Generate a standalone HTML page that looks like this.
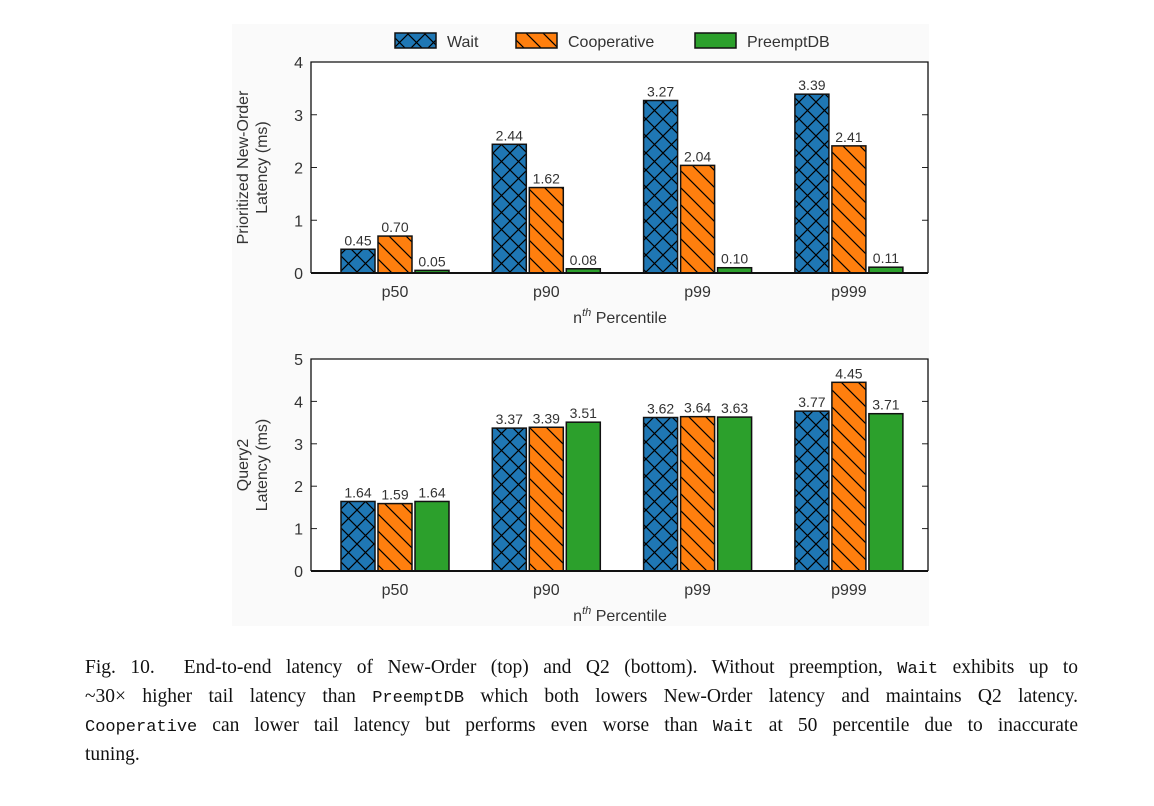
<!DOCTYPE html>
<html><head><meta charset="utf-8">
<style>
body{margin:0;background:#fff;width:1154px;height:806px;overflow:hidden;font-family:"Liberation Sans",sans-serif;}
#cap{position:absolute;left:85px;top:654px;width:993px;font-family:"Liberation Serif",serif;font-size:19.5px;line-height:27px;color:#111;}
#cap div{text-align:justify;text-align-last:justify;white-space:nowrap;}
#cap div.last{text-align-last:left;}
#cap code{font-family:"Liberation Mono",monospace;font-size:17px;}
</style></head><body>
<svg id="fig" width="1154" height="640" style="position:absolute;left:0;top:0" xmlns="http://www.w3.org/2000/svg">
<defs>
<pattern id="xh" width="17" height="17" patternUnits="userSpaceOnUse" x="0" y="0"><rect width="17" height="17" fill="#1f77b4"/><path d="M0,0L17,17M17,0L0,17" stroke="#000" stroke-width="1.2"/></pattern>
<pattern id="dh" width="17" height="17" patternUnits="userSpaceOnUse"><rect width="17" height="17" fill="#ff7f0e"/><path d="M-2,-2L19,19M-2,15L2,19M15,-2L19,2" stroke="#000" stroke-width="1.2"/></pattern>
</defs>
<rect x="232" y="24" width="697" height="602" fill="#fafafa"/>
<g id="charts"></g>
</svg>
<div id="cap">
<div>Fig. 10.&nbsp; End-to-end latency of New-Order (top) and Q2 (bottom). Without preemption, <code>Wait</code> exhibits up to</div>
<div>~30× higher tail latency than <code>PreemptDB</code> which both lowers New-Order latency and maintains Q2 latency.</div>
<div><code>Cooperative</code> can lower tail latency but performs even worse than <code>Wait</code> at 50 percentile due to inaccurate</div>
<div class="last">tuning.</div>
</div>
<script>
const categories=["p50","p90","p99","p999"];
const seriesNames=["Wait","Cooperative","PreemptDB"];
const topWait=[0.45,2.44,3.27,3.39];
const topCoop=[0.70,1.62,2.04,2.41];
const topPre=[0.05,0.08,0.10,0.11];
const botWait=[1.64,3.37,3.62,3.77];
const botCoop=[1.59,3.39,3.64,4.45];
const botPre=[1.64,3.51,3.63,3.71];
const topTicks=[0,1,2,3,4];
const botTicks=[0,1,2,3,4,5];
const NS="http://www.w3.org/2000/svg";
const g=document.getElementById('charts');
const fills=["url(#xh)","url(#dh)","#2ca02c"];
function mk(tag,attrs,parent){const e=document.createElementNS(NS,tag);for(const k in attrs)e.setAttribute(k,attrs[k]);(parent||g).appendChild(e);return e;}
function txt(x,y,s,size,anchor,parent){const t=mk('text',{x:x,y:y,'font-size':size,'text-anchor':anchor||'middle',fill:'#333','font-family':'Liberation Sans, sans-serif'},parent);t.textContent=s;return t;}
function chart(name,top,bottom,ticks,series,ylab){
  const L=311,R=928,ymax=ticks[ticks.length-1];
  const cg=mk('g',{});
  
  
  mk('rect',{x:L,y:top,width:R-L,height:bottom-top,fill:'#fff'},cg);
  const y=v=>bottom-(v/ymax)*(bottom-top);
  const x=i=>395+i*151.3;
  ticks.forEach(t=>{
    mk('line',{x1:L,x2:L+6,y1:y(t),y2:y(t),stroke:'#222','stroke-width':1},cg);
    mk('line',{x1:R,x2:R-6,y1:y(t),y2:y(t),stroke:'#222','stroke-width':1},cg);
    const tl=txt(L-8,y(t)+6,String(t),16,'end',cg);
    
    
  });
  categories.forEach((c,i)=>{
    series.forEach((s,j)=>{
      const bx=x(i)-54+j*37;
      const r=mk('rect',{x:bx,y:y(s[i]),width:34,height:bottom-y(s[i]),fill:fills[j],stroke:'#111','stroke-width':1.5},cg);
      
      
      const vl=txt(bx+17,y(s[i])-4,s[i].toFixed(2),14,'middle',cg);
      
      
    });
    const xl=txt(x(i),bottom+24,c,16,'middle',cg);
    
    
  });
  mk('path',{d:`M${L},${bottom}V${top}H${R}V${bottom}`,fill:'none',stroke:'#111','stroke-width':1.3},cg);
  mk('line',{x1:L,x2:R,y1:bottom,y2:bottom,stroke:'#111','stroke-width':2},cg);
  const xt=txt(620,bottom+50,'',16,'middle',cg);
  xt.innerHTML='n<tspan font-style="italic" font-size="11" dy="-7">th</tspan><tspan dy="7"> Percentile</tspan>';
  
  
  const cy=(top+bottom)/2;
  const yt=mk('text',{transform:`translate(248,${cy}) rotate(-90)`,'font-size':16,'text-anchor':'middle',fill:'#333','font-family':'Liberation Sans, sans-serif'},cg);
  yt.innerHTML=`<tspan x="0" y="0">${ylab[0]}</tspan><tspan x="0" y="19">${ylab[1]}</tspan>`;
  
  
}
chart('top-chart',62,273,topTicks,[topWait,topCoop,topPre],['Prioritized New-Order','Latency (ms)']);
chart('bottom-chart',359,571,botTicks,[botWait,botCoop,botPre],['Query2','Latency (ms)']);
const lg=mk('g',{});


const lx=[395,516,695];
seriesNames.forEach((n,j)=>{
  const r=mk('rect',{x:lx[j],y:33,width:41,height:15,fill:fills[j],stroke:'#111','stroke-width':1.5},lg);
  
  
  const t=txt(lx[j]+52,47,n,16,'start',lg);
  
  
});
</script>
</body></html>
